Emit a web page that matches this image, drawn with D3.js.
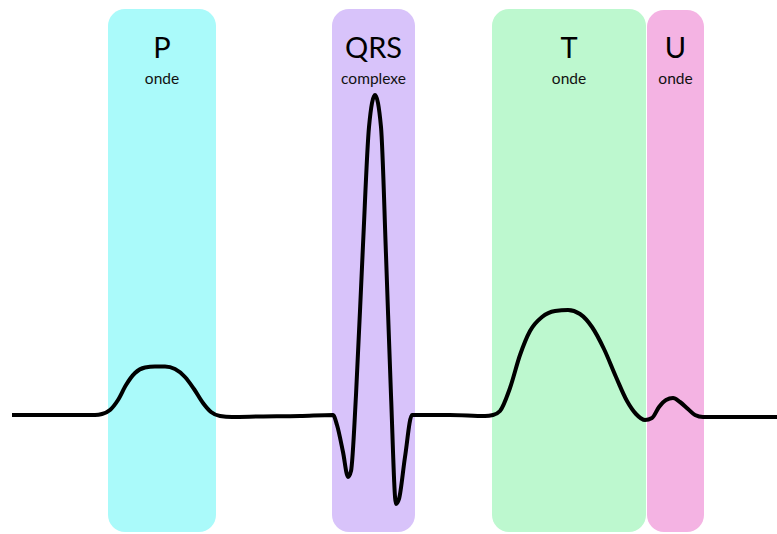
<!DOCTYPE html>
<html>
<head>
<meta charset="utf-8">
<script src="https://cdn.jsdelivr.net/npm/d3@7"></script>
<style>
  html, body { margin: 0; padding: 0; background: #fff; }
  svg { display: block; }
</style>
</head>
<body>
<svg id="chart" width="777" height="534"></svg>
<script>
// ---- Data ----
// Wave regions (start / end along the time axis, label, sub-label)
const waveNames   = ["P", "QRS", "T", "U"];
const waveSubs    = ["onde", "complexe", "onde", "onde"];
const waveStart   = [108, 332, 492, 647];
const waveEnd     = [216, 415, 646, 704];
const waveColors  = ["#aafafa", "#d8c3fa", "#bdf8cf", "#f4b3e3"];

// ECG trace samples (time units, amplitude units; baseline = 0)
const ecgTime = [12, 60, 95, 102, 110, 118, 126, 135, 145, 155, 165, 175, 185, 194, 203, 211, 220, 232, 260, 300, 333,
                 337, 343, 348, 351, 356, 363, 369, 375, 381, 386, 391, 396, 399, 405, 412, 418,
                 450, 485, 493, 500, 510, 520, 530, 542, 555, 568, 580, 592, 604, 616, 627, 636, 645, 652,
                 659, 666, 673, 680, 688, 695, 703, 740, 777];
const ecgValue = [0, 0, 0, 1, 5, 15, 30, 42, 47.5, 48.5, 48.5, 46, 38, 26, 12, 3, -1, -2, -1.5, -1, 0,
                  -10, -37, -62, -56, 20, 170, 288, 320, 288, 160, 20, -89, -84, -42, 0, 0,
                  0, -1, 0, 4, 27, 60, 84, 98, 104, 105, 101, 88, 66, 38, 14, 1, -5, -3,
                  8, 15, 17, 13, 6, 0, -2, -2, -2];

// ---- Chart ----
const svg = d3.select("#chart");

const x = d3.scaleLinear().domain([0, 777]).range([0, 777]);
const y = d3.scaleLinear().domain([-120, 330]).range([535, 85]);

const bandTop = 9, bandBottom = 532, radius = 17;

const waves = waveNames.map((n, i) => ({
  name: n, sub: waveSubs[i], start: waveStart[i], end: waveEnd[i], color: waveColors[i]
}));

svg.selectAll("rect.band")
  .data(waves)
  .join("rect")
  .attr("class", "band")
  .attr("x", d => x(d.start))
  .attr("width", d => x(d.end) - x(d.start))
  .attr("y", (d, i) => i === 3 ? bandTop + 1 : bandTop)
  .attr("height", (d, i) => bandBottom - (i === 3 ? bandTop + 1 : bandTop))
  .attr("rx", radius)
  .attr("ry", radius)
  .attr("fill", d => d.color);

svg.selectAll("text.name")
  .data(waves)
  .join("text")
  .attr("class", "name")
  .attr("x", d => x((d.start + d.end) / 2))
  .attr("y", 58)
  .attr("text-anchor", "middle")
  .attr("font-family", "Lato, 'Open Sans', sans-serif")
  .attr("font-size", 29)
  .attr("fill", "#000")
  .text(d => d.name);

svg.selectAll("text.sub")
  .data(waves)
  .join("text")
  .attr("class", "sub")
  .attr("x", d => x((d.start + d.end) / 2))
  .attr("y", 84)
  .attr("text-anchor", "middle")
  .attr("font-family", "Lato, 'Open Sans', sans-serif")
  .attr("font-size", 15.5)
  .attr("fill", "#111")
  .text(d => d.sub);

const pts = ecgTime.map((t, i) => [t, ecgValue[i]]);
const line = d3.line()
  .x(d => x(d[0]))
  .y(d => y(d[1]))
  .curve(d3.curveMonotoneX);

svg.append("path")
  .datum(pts)
  .attr("d", line)
  .attr("fill", "none")
  .attr("stroke", "#000")
  .attr("stroke-width", 4)
  .attr("stroke-linejoin", "round")
  .attr("stroke-linecap", "butt");
</script>
</body>
</html>
